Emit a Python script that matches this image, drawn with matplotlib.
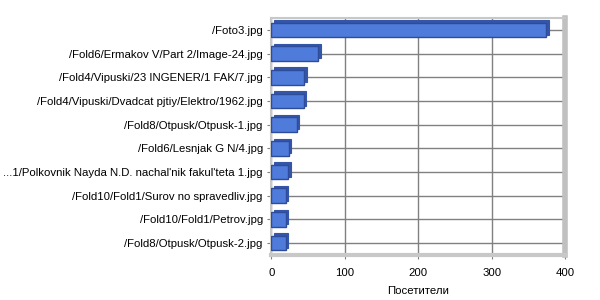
import matplotlib
matplotlib.use("Agg")
import matplotlib.pyplot as plt
import matplotlib.transforms as mtransforms

# data, top to bottom as in the picture
pages = ["/Foto3.jpg",
         "/Fold6/Ermakov V/Part 2/Image-24.jpg",
         "/Fold4/Vipuski/23 INGENER/1 FAK/7.jpg",
         "/Fold4/Vipuski/Dvadcat pjtiy/Elektro/1962.jpg",
         "/Fold8/Otpusk/Otpusk-1.jpg",
         "/Fold6/Lesnjak G N/4.jpg",
         "...1/Polkovnik Nayda N.D. nachal'nik fakul'teta 1.jpg",
         "/Fold10/Fold1/Surov no spravedliv.jpg",
         "/Fold10/Fold1/Petrov.jpg",
         "/Fold8/Otpusk/Otpusk-2.jpg"]
visitors = [374, 64, 45, 44, 35, 24, 23, 20, 20, 20]
x_ticks = [0, 100, 200, 300, 400]

plt.rcParams['font.family'] = ['Liberation Sans', 'DejaVu Sans']
fig = plt.figure(figsize=(6, 3), dpi=100)
ax = fig.add_axes([0.452, 0.15, 0.49, 0.79])

ypos = list(range(len(pages)))[::-1]

# fake 3d depth: darker copy shifted up-right
shift = mtransforms.ScaledTranslation(2.5/100, 2.5/100, fig.dpi_scale_trans)
ax.barh(ypos, visitors, height=0.62, color="#3456A8", edgecolor="#3456A8",
        linewidth=0.8, transform=ax.transData + shift, zorder=2)
ax.barh(ypos, visitors, height=0.62, color="#4F7BDB", edgecolor="#2F4C9A",
        linewidth=1.0, zorder=3)

ax.set_xlim(0, 400)
ax.set_ylim(-0.5, len(pages) - 0.5)
ax.set_xticks(x_ticks)
ax.set_yticks(ypos)
ax.set_yticklabels(pages)
ax.tick_params(axis="both", labelsize=8.2, length=3, color="#808080", pad=3)
ax.tick_params(axis="x", pad=6)

ax.grid(True, color="#808080", linewidth=1, zorder=0)
ax.set_axisbelow(True)

for side in ["left", "top"]:
    ax.spines[side].set_color("#C8C8C8")
    ax.spines[side].set_linewidth(1.5)
ax.spines["right"].set_color("#C0C0C0")
ax.spines["right"].set_linewidth(4)
ax.spines["bottom"].set_color("#C8C8C8")
ax.spines["bottom"].set_linewidth(3)

ax.set_xlabel("Посетители", fontsize=8.2, labelpad=6)

fig.savefig("out.png", dpi=100)
